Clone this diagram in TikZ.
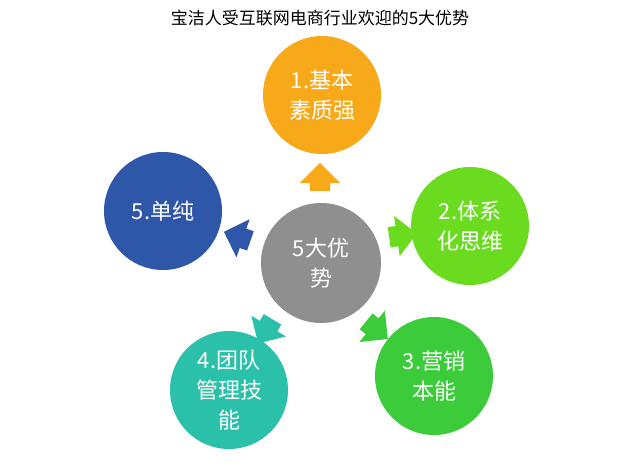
\documentclass[tikz,border=0pt]{standalone}
\usepackage{fontspec}
\setmainfont{Noto Sans CJK SC}
\usetikzlibrary{shapes.arrows, positioning}
\definecolor{orangeC}{HTML}{F7A919}
\definecolor{limeC}{HTML}{6ADB1E}
\definecolor{greenC}{HTML}{3CCB3A}
\definecolor{tealC}{HTML}{2BC0A9}
\definecolor{blueC}{HTML}{2F57A9}
\definecolor{grayC}{HTML}{8F8F8F}
\tikzset{
    bubble/.style={circle, fill=#1, minimum size=118pt, inner sep=0pt,
        text=white, align=center, font=\fontsize{22}{30}\selectfont},
    blockarrow/.style={single arrow, fill=#1, minimum height=28pt,
        minimum width=40pt, single arrow head extend=10pt,
        inner xsep=0pt, inner ysep=10pt, single arrow head indent=0pt}
}
\begin{document}
\begin{tikzpicture}[x=1pt,y=-1pt]
    \useasboundingbox[fill=white] (0,0) rectangle (640,464);
    \node[font=\fontsize{17}{19}\selectfont] (title) at (320,18)
    {宝洁人受互联网电商行业欢迎的5大优势};
    \node[bubble=grayC, minimum size=120pt] (core) at (321,263) {5大优\\势};
    \node[bubble=orangeC] (basic) at (322,95) {1.基本\\素质强};
    \node[bubble=limeC] (system) at (470,226) {2.体系\\化思维};
    \node[bubble=greenC] (market) at (434,376) {3.营销\\本能};
    \node[bubble=tealC] (team) at (229,390) {4.团队\\管理技\\能};
    \node[bubble=blueC] (simple) at (163,211) {5.单纯};
    \node[blockarrow=orangeC, rotate=90] (a1) at (320,182) {};
    \node[blockarrow=limeC, rotate=8] (a2) at (398,236) {};
    \node[blockarrow=greenC, rotate=-39] (a3) at (373,327) {};
    \node[blockarrow=tealC, rotate=-121] (a4) at (268,327) {};
    \node[blockarrow=blueC, rotate=161] (a5) at (242,238) {};
\end{tikzpicture}
\end{document}
